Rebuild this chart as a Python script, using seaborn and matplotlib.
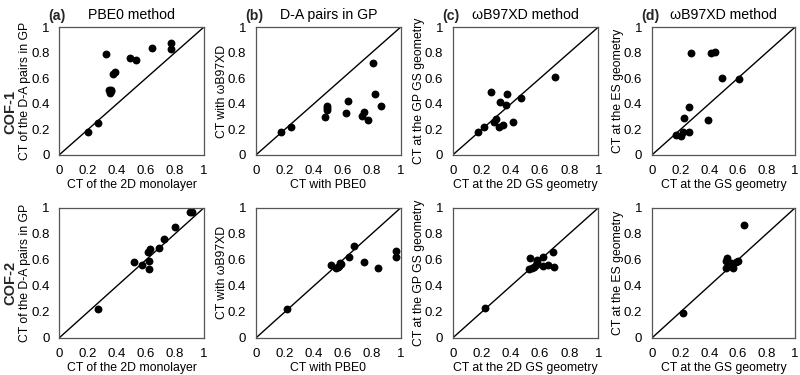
import numpy as np
import pandas as pd
import seaborn as sns
import matplotlib.pyplot as plt

# **Data**
tick_vals = [0, 0.2, 0.4, 0.6, 0.8, 1]
tick_labels = ["0", "0.2", "0.4", "0.6", "0.8", "1"]
diag = [0, 1]

# COF-1
a1_x = [0.20, 0.265, 0.325, 0.345, 0.355, 0.35, 0.36, 0.37, 0.385, 0.49, 0.53, 0.64, 0.77, 0.77]
a1_y = [0.18, 0.25, 0.79, 0.505, 0.505, 0.48, 0.50, 0.63, 0.645, 0.755, 0.745, 0.835, 0.875, 0.83]
b1_x = [0.17, 0.245, 0.475, 0.49, 0.49, 0.49, 0.62, 0.635, 0.735, 0.745, 0.775, 0.805, 0.82, 0.86]
b1_y = [0.175, 0.22, 0.295, 0.38, 0.365, 0.35, 0.325, 0.425, 0.305, 0.335, 0.27, 0.715, 0.475, 0.385]
c1_x = [0.17, 0.215, 0.265, 0.285, 0.295, 0.315, 0.345, 0.325, 0.365, 0.375, 0.415, 0.465, 0.705]
c1_y = [0.175, 0.22, 0.495, 0.26, 0.28, 0.215, 0.23, 0.415, 0.39, 0.475, 0.26, 0.445, 0.61]
d1_x = [0.165, 0.205, 0.215, 0.225, 0.255, 0.255, 0.275, 0.39, 0.41, 0.44, 0.49, 0.605]
d1_y = [0.155, 0.145, 0.175, 0.285, 0.18, 0.375, 0.795, 0.275, 0.795, 0.805, 0.605, 0.595]

# COF-2
a2_x = [0.265, 0.515, 0.575, 0.62, 0.62, 0.615, 0.625, 0.69, 0.725, 0.80, 0.90, 0.92]
a2_y = [0.225, 0.585, 0.56, 0.59, 0.53, 0.66, 0.685, 0.69, 0.76, 0.85, 0.965, 0.965]
b2_x = [0.215, 0.52, 0.55, 0.565, 0.575, 0.58, 0.585, 0.645, 0.675, 0.745, 0.84, 0.965, 0.965]
b2_y = [0.225, 0.56, 0.535, 0.545, 0.555, 0.575, 0.57, 0.625, 0.705, 0.58, 0.54, 0.665, 0.625]
c2_x = [0.22, 0.52, 0.53, 0.545, 0.555, 0.57, 0.575, 0.575, 0.62, 0.62, 0.655, 0.685, 0.695]
c2_y = [0.23, 0.53, 0.61, 0.535, 0.545, 0.56, 0.60, 0.585, 0.62, 0.55, 0.56, 0.66, 0.545]
d2_x = [0.215, 0.515, 0.515, 0.525, 0.54, 0.555, 0.565, 0.59, 0.60, 0.645]
d2_y = [0.195, 0.54, 0.59, 0.61, 0.555, 0.575, 0.54, 0.58, 0.59, 0.87]

titles = ["PBE0 method", "D-A pairs in GP", "\u03c9B97XD method", "\u03c9B97XD method"]
letters = ["(a)", "(b)", "(c)", "(d)"]
xlabels = ["CT of the 2D monolayer", "CT with PBE0",
           "CT at the 2D GS geometry", "CT at the GS geometry"]
ylabels = ["CT of the D-A pairs in GP", "CT with \u03c9B97XD",
           "CT at the GP GS geometry", "CT at the ES geometry"]
rows = ["COF-1", "COF-2"]

data = [[(a1_x, a1_y), (b1_x, b1_y), (c1_x, c1_y), (d1_x, d1_y)],
        [(a2_x, a2_y), (b2_x, b2_y), (c2_x, c2_y), (d2_x, d2_y)]]

# **Style**
sns.set_theme(style="white")
plt.rcParams['font.family'] = ['Liberation Sans', 'DejaVu Sans']

fig = plt.figure(figsize=(8, 3.75), dpi=100)

lefts = [0.074, 0.320, 0.566, 0.815]
widths = [0.181, 0.181, 0.182, 0.179]
bottoms = [0.587, 0.099]
heights = [0.341, 0.347]

for r in range(2):
    for c in range(4):
        ax = fig.add_axes([lefts[c], bottoms[r], widths[c], heights[r]])
        x, y = data[r][c]
        df = pd.DataFrame({"x": x, "y": y})
        ax.plot(diag, diag, color="black", lw=1.0, zorder=1)
        sns.scatterplot(data=df, x="x", y="y", ax=ax, color="black",
                        s=32, edgecolor="black", linewidth=0, zorder=2)
        ax.set_xlim(0, 1)
        ax.set_ylim(0, 1)
        ax.set_xticks(tick_vals)
        ax.set_xticklabels(tick_labels)
        ax.set_yticks(tick_vals)
        ax.set_yticklabels(tick_labels)
        ax.tick_params(axis="x", direction="in", length=4, width=0.8,
                       color="#444444", pad=7, labelsize=9.5, labelcolor="black")
        ax.tick_params(axis="y", length=0, pad=7, labelsize=9.5, labelcolor="black")
        for sp in ax.spines.values():
            sp.set_color("#555555")
            sp.set_linewidth(0.9)
        ax.set_xlabel(xlabels[c], fontsize=8.8, labelpad=2, color="black")
        ax.set_ylabel(ylabels[c], fontsize=8.8, labelpad=0, color="black")
        if r == 0:
            ax.set_title(titles[c], fontsize=10.2, pad=6, color="black")
            ax.text(-0.075, 1.035, letters[c], transform=ax.transAxes,
                    fontsize=10.2, fontweight="bold", ha="left", va="bottom")

fig.text(0.013, 0.70, rows[0], rotation=90, fontsize=10.5, fontweight="bold",
         ha="center", va="center")
fig.text(0.013, 0.245, rows[1], rotation=90, fontsize=10.5, fontweight="bold",
         ha="center", va="center")

fig.savefig("out.png", dpi=100)
